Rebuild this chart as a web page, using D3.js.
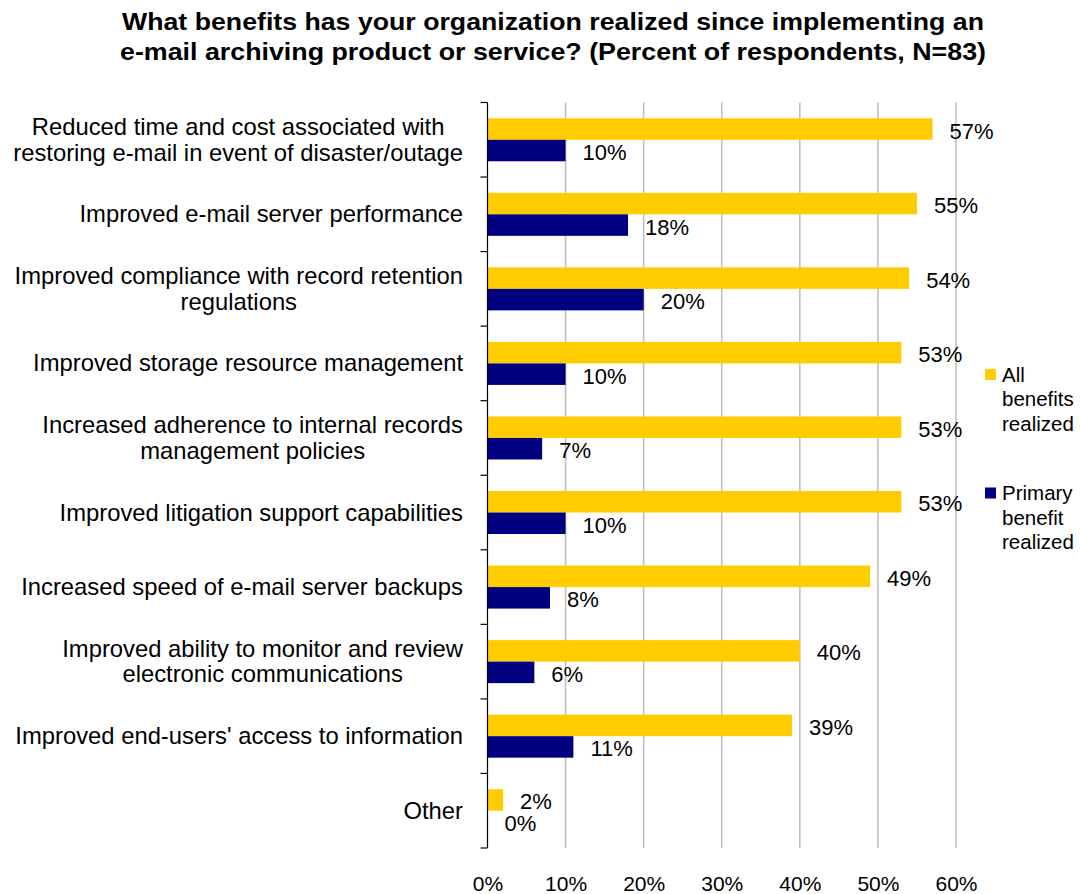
<!DOCTYPE html>
<html><head><meta charset="utf-8">
<script src="https://cdn.jsdelivr.net/npm/d3@7"></script>
<style>body{margin:0;background:#fff}svg{display:block}text{font-family:"Liberation Sans",Arial,sans-serif}</style>
</head><body>
<svg id="c" width="1080" height="894"></svg>
<script>
const categories = [
  ["Reduced time and cost associated with","restoring e-mail in event of disaster/outage"],
  ["Improved e-mail server performance"],
  ["Improved compliance with record retention","regulations"],
  ["Improved storage resource management"],
  ["Increased adherence to internal records","management policies"],
  ["Improved litigation support capabilities"],
  ["Increased speed of e-mail server backups"],
  ["Improved ability to monitor and review","electronic communications"],
  ["Improved end-users' access to information"],
  ["Other"]
];
const allBenefits = [57,55,54,53,53,53,49,40,39,2];
const primaryBenefit = [10,18,20,10,7,10,8,6,11,0];
const xTicks = [0,10,20,30,40,50,60];
const seriesNames = [["All","benefits","realized"],["Primary","benefit","realized"]];
const colors = ["#FFCC00","#000080"];
const titleLines = ["What benefits has your organization realized since implementing an",
                    "e-mail archiving product or service? (Percent of respondents, N=83)"];

(function(){
const svg = d3.select("#c");
const pL = 487.5, pR = 956, pT = 102.5, pB = 848;
const x = d3.scaleLinear().domain([0,60]).range([pL,pR]);
const y = d3.scaleBand().domain(d3.range(categories.length)).range([pT,pB]);
const barH = 21.5;
const inner = d3.scaleBand().domain([0,1]).range([0,2*barH]);

// title
const titleW = [862, 866];
svg.append("g").selectAll("text").data(titleLines).join("text")
  .attr("x",553).attr("y",(d,i)=>29.5+i*30).attr("text-anchor","middle")
  .attr("font-size",23.5).attr("font-weight","bold").attr("fill","#000")
  .attr("textLength",(d,i)=>titleW[i]).attr("lengthAdjust","spacingAndGlyphs")
  .text(d=>d);

// gridlines
svg.append("g").selectAll("line").data(xTicks.filter(d=>d>0)).join("line")
  .attr("x1",d=>x(d)).attr("x2",d=>x(d)).attr("y1",pT).attr("y2",pB)
  .attr("stroke","#c0c0c0").attr("stroke-width",1.6);

// x axis labels
const xAxis = d3.axisBottom(x).tickValues(xTicks).tickFormat(d=>d+"%").tickSize(0).tickPadding(0);
const gx = svg.append("g").attr("transform",`translate(0,891)`).call(xAxis);
gx.select(".domain").remove();
gx.selectAll("text").attr("dy",0).attr("y",0).attr("font-size",21).attr("fill","#000")
  .attr("font-family","Liberation Sans, Arial, sans-serif");

// bars
const series = [allBenefits, primaryBenefit];
const barTop = i => y(i) + y.bandwidth()/2 - barH;
series.forEach((vals,s)=>{
  svg.append("g").selectAll("rect").data(vals).join("rect")
    .attr("x",x(0)).attr("y",(d,i)=>barTop(i)+inner(s))
    .attr("width",d=>x(d)-x(0)).attr("height",inner.bandwidth())
    .attr("fill",colors[s]);
  svg.append("g").selectAll("text").data(vals).join("text")
    .attr("x",d=>x(d)+17).attr("y",(d,i)=>barTop(i)+inner(s)+barH/2+9.5)
    .attr("font-size",22).attr("fill","#000").text(d=>d+"%");
});

// y axis
const gy = svg.append("g").attr("transform",`translate(${pL},0)`);
gy.append("line").attr("x1",0).attr("x2",0).attr("y1",pT).attr("y2",pB).attr("stroke","#000").attr("stroke-width",1.2);
gy.selectAll("line.t").data(d3.range(categories.length+1)).join("line").attr("class","t")
  .attr("x1",-7).attr("x2",0)
  .attr("y1",i=>i<categories.length?y(i):pB).attr("y2",i=>i<categories.length?y(i):pB)
  .attr("stroke","#000").attr("stroke-width",1.2);

// category labels (block right-aligned, lines centred inside block)
const labelRight = 463, lh = 25.5;
const cg = svg.append("g");
categories.forEach((lines,i)=>{
  const cy = y(i)+y.bandwidth()/2;
  const texts = lines.map((t,j)=>cg.append("text").attr("font-size",23.8).attr("fill","#000")
      .attr("text-anchor","middle")
      .attr("y",cy+8+(j-(lines.length-1)/2)*lh).text(t));
  const maxW = d3.max(texts,t=>t.node().getComputedTextLength());
  texts.forEach(t=>t.attr("x",labelRight-maxW/2));
});

// legend
const legY = [369, 487.5];
seriesNames.forEach((lines,s)=>{
  svg.append("rect").attr("x",985).attr("y",legY[s]).attr("width",11).attr("height",11).attr("fill",colors[s]);
  svg.append("g").selectAll("text").data(lines).join("text")
    .attr("x",1002).attr("y",(d,j)=>legY[s]+12.7+j*24.5).attr("font-size",20.5).attr("fill","#000").text(d=>d);
});
})();
</script>
</body></html>
